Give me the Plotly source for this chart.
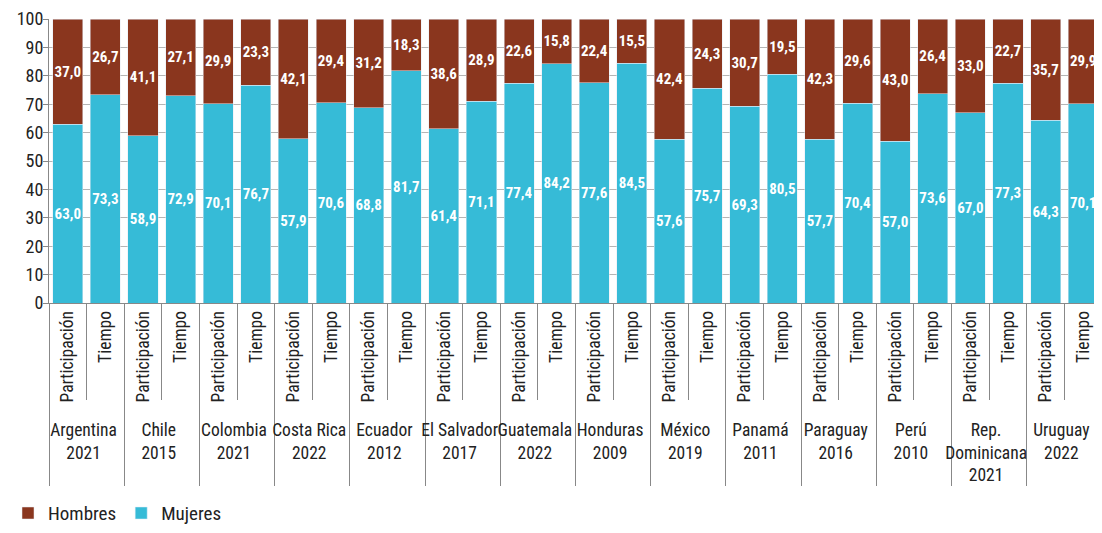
import plotly.graph_objects as go

countries = ["Argentina<br>2021", "Chile<br>2015", "Colombia<br>2021", "Costa Rica<br>2022",
             "Ecuador<br>2012", "El Salvador<br>2017", "Guatemala<br>2022", "Honduras<br>2009",
             "México<br>2019", "Panamá<br>2011", "Paraguay<br>2016", "Perú<br>2010",
             "Rep.<br>Dominicana<br>2021", "Uruguay<br>2022"]
indicators = ["Participación", "Tiempo"]

mujeres = [63.0, 73.3, 58.9, 72.9, 70.1, 76.7, 57.9, 70.6, 68.8, 81.7, 61.4, 71.1, 77.4, 84.2,
           77.6, 84.5, 57.6, 75.7, 69.3, 80.5, 57.7, 70.4, 57.0, 73.6, 67.0, 77.3, 64.3, 70.1]
hombres = [37.0, 26.7, 41.1, 27.1, 29.9, 23.3, 42.1, 29.4, 31.2, 18.3, 38.6, 28.9, 22.6, 15.8,
           22.4, 15.5, 42.4, 24.3, 30.7, 19.5, 42.3, 29.6, 43.0, 26.4, 33.0, 22.7, 35.7, 29.9]

outer = [c for c in countries for _ in indicators]
inner = [i for _ in countries for i in indicators]

FONT = "Roboto Condensed, DejaVu Sans Condensed, sans-serif"
C_M = "#36BBD7"
C_H = "#8A361E"

fig = go.Figure()
for name, vals, col in [("Mujeres", mujeres, C_M), ("Hombres", hombres, C_H)]:
    fig.add_trace(go.Bar(x=[outer, inner], y=vals, name=name, marker_color=col,
                         texttemplate="<b>%{y:.1f}</b>", textposition="inside",
                         insidetextanchor="middle", textangle=0, constraintext="none",
                         textfont=dict(color="white", size=15, family=FONT)))

fig.update_layout(
    width=1094, height=525,
    barmode="stack", bargap=0.2,
    separators=",.",
    plot_bgcolor="white", paper_bgcolor="white",
    margin=dict(l=40, r=0, t=11, b=222),
    font=dict(family=FONT, size=18, color="#222"),
    legend=dict(orientation="h", x=-0.039, xanchor="left", y=-0.74, yanchor="middle",
                traceorder="reversed", font=dict(size=19, family=FONT)),
    showlegend=True,
)
fig.update_yaxes(range=[0, 100], dtick=10, showgrid=True, gridcolor="#b5b5b5", gridwidth=1,
                 showline=True, linecolor="#888", ticks="outside", tickcolor="#888", ticklen=5,
                 ticklabelstandoff=-4, ticklabeloverflow="allow",
                 tickfont=dict(size=18, family=FONT), zeroline=False, automargin=False)
fig.update_xaxes(type="multicategory", tickangle=-90, showline=True, linecolor="#888",
                 ticks="outside", tickson="boundaries", ticklen=96, tickcolor="#888",
                 showdividers=True, dividercolor="#888", dividerwidth=1, automargin=False,
                 tickfont=dict(size=17.5, family=FONT))

fig.write_html("out.html")
